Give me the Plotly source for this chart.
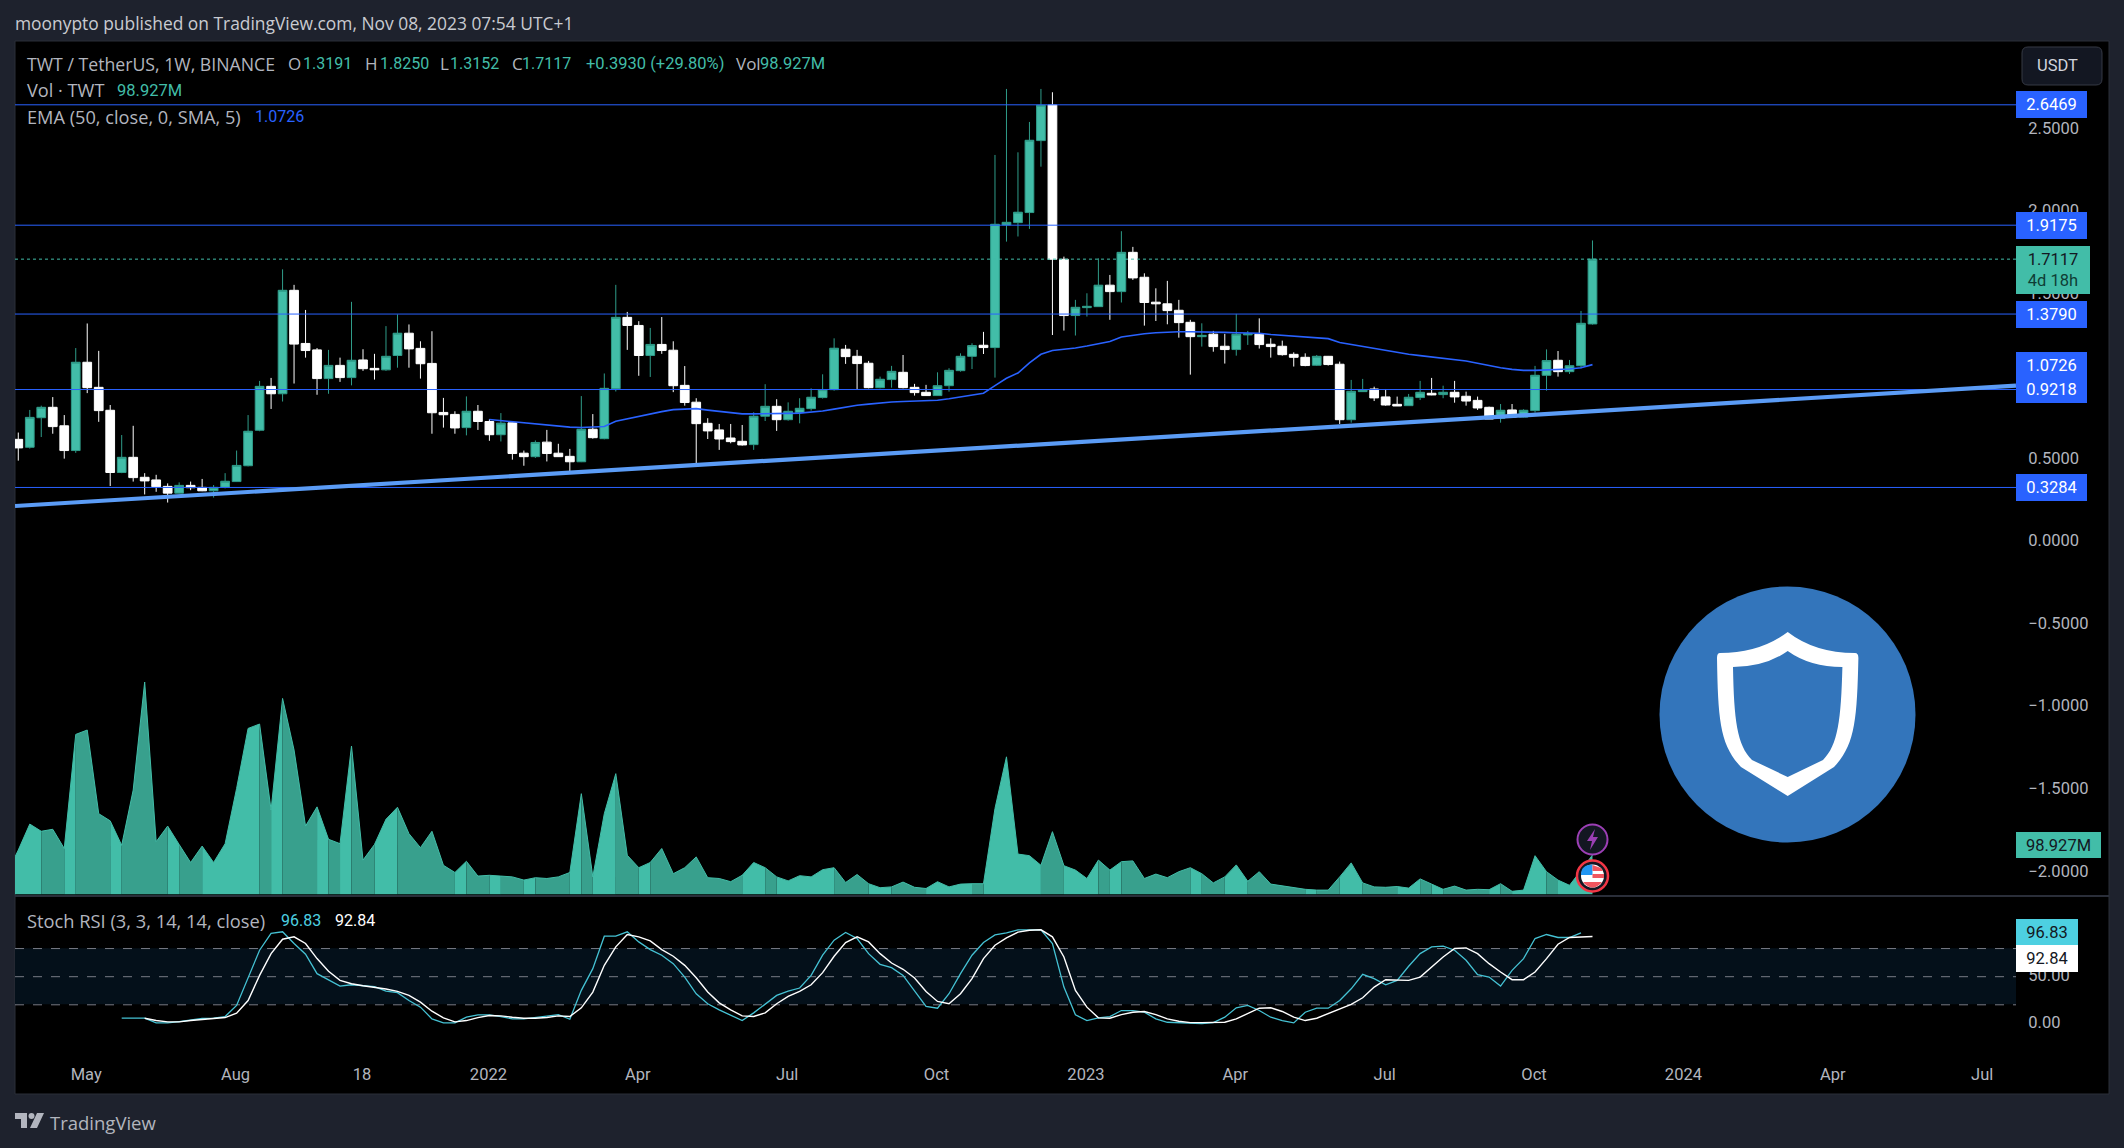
import pandas as pd
import plotly.graph_objects as go

W, H = 2124, 1148

# ---------- data ----------
start_week = "2021-03-22"
high = [.661,.798,.824,.876,.767,1.173,1.322,1.156,.828,.646,
        .702,.415,.405,.353,.359,.364,.380,.343,.415,.552,
        .767,.974,.992,1.650,1.556,1.404,1.173,1.162,1.115,1.453,
        1.166,1.138,1.306,1.377,1.316,1.214,1.275,.871,.790,.880,
        .828,.742,.779,.722,.552,.613,.677,.593,.562,.882,
        .773,1.019,1.556,1.392,1.336,1.295,1.361,1.214,1.064,.869,
        .748,.713,.713,.707,.784,.954,.863,.844,.869,.929,
        1.014,1.232,1.192,1.162,1.095,1.000,1.065,1.131,.956,.950,
        1.026,1.051,1.141,1.202,1.271,2.343,2.743,2.359,2.543,2.743,
        2.723,1.727,1.465,1.505,1.717,1.616,1.881,1.786,1.626,1.535,
        1.580,1.465,1.344,1.323,1.277,1.259,1.380,1.277,1.353,1.232,
        1.218,1.147,1.141,1.131,1.125,1.091,.980,.986,.939,.925,
        .879,.895,.974,.992,.945,.974,.909,.879,.818,.834,
        .834,.802,1.065,1.165,1.155,1.101,1.398,1.825]
body_top = [.620,.753,.814,.814,.702,1.087,1.087,.935,.796,.511,
        .511,.390,.374,.335,.341,.341,.329,.329,.366,.462,
        .669,.941,.941,1.523,1.523,1.201,1.162,1.068,1.068,1.099,
        1.101,1.050,1.123,1.263,1.263,1.171,1.080,.783,.771,.790,
        .790,.728,.718,.720,.536,.601,.603,.536,.517,.681,
        .681,.929,1.359,1.359,1.310,1.195,1.195,1.160,.947,.845,
        .717,.677,.628,.608,.760,.820,.820,.790,.808,.875,
        .921,1.172,1.166,1.123,1.081,.984,1.032,1.026,.935,.905,
        .945,1.038,1.123,1.188,1.190,1.923,1.935,1.996,2.432,2.644,
        2.646,1.711,1.420,1.426,1.554,1.554,1.753,1.753,1.602,1.451,
        1.441,1.402,1.329,1.250,1.257,1.184,1.257,1.259,1.257,1.196,
        1.184,1.135,1.117,1.123,1.123,1.075,.911,.921,.925,.877,
        .832,.875,.905,.899,.905,.905,.881,.856,.814,.796,
        .798,.796,1.008,1.097,1.099,1.066,1.323,1.7117]
body_bottom = [.568,.572,.751,.697,.552,.552,.933,.794,.419,.419,
        .388,.368,.333,.294,.294,.327,.308,.308,.329,.364,
        .460,.675,.896,.896,1.197,1.158,.988,.988,.994,.994,
        1.048,1.041,1.041,1.128,1.168,1.078,.781,.769,.689,.691,
        .728,.648,.648,.534,.515,.515,.534,.515,.484,.484,
        .630,.624,.927,1.310,1.128,1.128,1.158,.945,.843,.715,
        .671,.622,.606,.586,.588,.760,.739,.739,.782,.806,
        .873,.921,1.121,1.079,.933,.933,.982,.933,.903,.885,
        .885,.945,1.036,1.123,1.176,1.176,1.919,1.933,1.994,2.430,
        1.711,1.370,1.370,1.418,1.424,1.515,1.515,1.598,1.449,1.441,
        1.400,1.327,1.242,1.242,1.182,1.164,1.164,1.253,1.194,1.182,
        1.133,1.117,1.067,1.069,1.073,.739,.739,.909,.871,.828,
        .822,.824,.873,.889,.891,.877,.852,.810,.743,.747,
        .755,.755,.794,1.008,1.030,1.030,1.066,1.3191]
low = [.491,.564,.634,.654,.503,.538,.900,.726,.337,.415,
        .364,.286,.302,.237,.292,.312,.306,.267,.323,.362,
        .456,.669,.804,.849,.958,1.115,.890,.896,.968,.947,
        1.035,.982,1.035,1.054,1.054,.988,.654,.691,.654,.644,
        .677,.611,.607,.497,.460,.507,.486,.513,.415,.482,
        .624,.620,.910,1.162,1.005,.998,1.138,.906,.824,.454,
        .622,.556,.596,.582,.556,.731,.671,.733,.717,.794,
        .867,.915,1.077,.925,.929,.929,.933,.929,.885,.883,
        .883,.909,1.030,1.046,1.137,.994,1.818,1.849,1.895,2.272,
        1.252,1.279,1.249,1.364,1.422,1.344,1.449,1.586,1.309,1.337,
        1.317,1.236,1.012,1.182,1.151,1.079,1.127,1.192,1.170,1.115,
        1.127,1.061,1.063,1.065,1.067,.713,.721,.909,.852,.824,
        .822,.822,.858,.887,.869,.842,.824,.798,.743,.721,
        .753,.753,.782,.915,1.000,1.016,1.050,1.3152]
rising_weeks = [1,2,5,9,14,17,18,19,20,21,23,27,29,32,33,39,42,45,49,51,52,55,
        64,65,67,68,69,70,71,75,76,80,81,82,83,85,86,87,88,89,92,93,94,96,
        103,106,107,113,116,117,121,122,124,129,131,132,133,135,136,137]
ema_first_week = 41
ema = [.740,.733,.726,.720,.714,.708,.700,.694,.692,.694,.698,.730,.745,.760,.773,.788,.800,.805,.806,
       .797,.788,.780,.774,.774,.774,.775,.777,.779,.785,.792,.803,.817,.827,.833,.840,.846,.849,.852,.854,
       .857,.866,.878,.888,.899,.945,.990,1.022,1.083,1.135,1.158,1.166,1.173,1.185,1.200,1.213,1.240,1.252,
       1.260,1.266,1.270,1.272,1.272,1.272,1.270,1.268,1.266,1.263,1.263,1.255,1.250,1.243,1.237,1.233,1.230,
       1.207,1.195,1.183,1.172,1.161,1.145,1.135,1.127,1.119,1.111,1.103,1.095,1.081,1.067,1.054,1.044,1.038,
       1.038,1.040,1.042,1.046,1.054,1.0726]
volume_week_before_m = 52
volume_m = [111,176,158,163,115,400,411,202,184,123,261,531,132,171,125,80,121,80,127,265,
        415,426,211,490,361,171,219,138,127,371,86,125,188,218,152,117,158,73,55,83,
        46,48,46,44,36,42,40,44,55,252,44,202,302,98,67,80,115,52,67,94,
        42,40,32,48,80,67,44,34,47,44,62,67,30,50,27,17,19,31,18,15,
        32,19,26,27,27,215,344,101,97,73,157,72,61,40,86,61,82,84,40,51,
        42,57,67,52,29,44,74,33,57,26,22,17,13,11,11,44,79,29,19,18,
        20,16,39,26,13,21,11,13,12,27,8,11,97,57,36,23,60,98.927]
stoch_k_first_week = 9
stoch_k = [5.7,5.7,5.7,.7,.7,2.1,3.9,5.4,5.7,7.5,19.3,49.6,78.2,96.1,97.9,85.4,73.9,53.2,46.8,40,
        41.4,40,39.3,34.6,32.9,24.6,17.5,5,.7,.7,6.8,9.3,9.3,7.5,5,5,6.1,7.9,9.6,4.6,
        35.4,58.6,93.2,93.2,97.9,87.1,78.9,72.9,63.9,49.6,31.8,21.1,14.6,8.6,3.2,11.4,21.1,30,34.6,37.9,
        51.4,72.9,88.9,97.1,90.7,74.6,63.2,59.6,51.4,35.4,18.2,16.4,31.8,53.2,72.9,86.4,94.6,96.8,100,100,
        100,85.4,38.9,9.3,3.2,6.1,7.5,13.9,13.9,12.1,5,1.4,.7,0,0,1,6.8,16.8,19.3,13.9,
        6.8,3.2,.7,12.1,16.4,16.4,24.6,37.1,52.5,47.9,41.4,46.1,61.1,74.6,81.8,82.5,78.2,67.5,52.1,49.6,
        40,56.8,69.3,90.7,95,91.8,91.8,96.83]
stoch_d_first_week = 11
stoch_d = [5.7,3.2,1.8,1.8,3.2,4.6,5.4,6.4,11.1,24.6,51.4,74.6,90,92.5,85.4,69.3,55.7,46.1,42.5,40.4,
        38.9,36.8,34.3,30,22.9,13.2,6.1,1.8,3.2,6.4,8.6,8.2,6.8,5.7,5.7,6.4,8.2,7.5,16.8,33.6,
        62.1,81.8,95,92.5,88.2,78.9,71.8,62.1,48.9,33.6,22.1,14.6,8.2,7.5,11.4,21.1,28.9,34.3,41.4,54.3,
        71.8,86.4,92.5,87.1,74.6,64.6,57.9,48.6,34.3,23.6,21.1,31.8,47.9,69.3,83.6,91.4,97.5,99.6,100,92.5,
        71,35.4,17.5,6.1,5.7,9.6,12.1,12.9,9.6,5,2.5,1,1,1,1.4,5,10.4,16.4,16.8,12.9,
        6.8,3.2,5.7,10.4,15.7,20.4,27.5,38.9,46.8,46.8,46.1,49.6,60.4,71,80,80.7,74.6,63.9,55,46.8,
        46.8,55,69.3,84.6,91.8,92.1,92.84]
price_levels = [2.6469, 1.9175, 1.3790, 0.9218, 0.3284]
last_price = 1.7117
trend_values = [0.216, 0.945]
x_range = ["2021-03-20", "2024-07-21"]
price_ticks = [2.5, 2.0, 1.5, 1.0, 0.5, 0.0, -0.5, -1.0, -1.5, -2.0]
stoch_ticks = [0, 50]
stoch_bands = [80, 50, 20]
time_tick_dates = ["2021-05-03","2021-08-02","2021-10-18","2022-01-03","2022-04-04","2022-07-04",
                   "2022-10-03","2023-01-02","2023-04-03","2023-07-03","2023-10-02","2024-01-01",
                   "2024-04-01","2024-07-01"]
time_tick_labels = ["May","Aug","18","2022","Apr","Jul","Oct","2023","Apr","Jul","Oct","2024","Apr","Jul"]

# ---------- colours ----------
BG, PANEL = "#1e222d", "#000000"
TEAL, TEAL_DK = "#42bda8", "#38a08d"
BLUE, TREND = "#2962ff", "#5b9cf6"
GRAY, LIGHT = "#b2b5be", "#d1d4dc"
CYAN = "#4dd0e1"
NUM_FONT = "Roboto"
TXT_FONT = "Open Sans"
FS = 16.5


def px(x):
    return x / W


def py(y):
    return 1 - y / H


weeks = pd.date_range(start_week, periods=len(high), freq="7D")
rising = set(rising_weeks)
opens = [b if i in rising else t for i, (t, b) in enumerate(zip(body_top, body_bottom))]
closes = [t if i in rising else b for i, (t, b) in enumerate(zip(body_top, body_bottom))]

fig = go.Figure()

# volume: one filled piece per run of equal direction; the first piece enters from the week before the view
vol_x = [weeks[0] - pd.Timedelta(days=7)] + list(weeks)
vol_y = [volume_week_before_m] + volume_m
vol_up = [True] + [k in rising for k in range(len(high))]
vol_up[1] = True
i = 0
n = len(vol_x)
while i < n - 1:
    up = vol_up[i + 1]
    j = i + 1
    while j + 1 < n and vol_up[j + 1] == up:
        j += 1
    fig.add_trace(go.Scatter(x=vol_x[i:j + 1], y=vol_y[i:j + 1], mode="lines", fill="tozeroy",
                             fillcolor=TEAL if up else TEAL_DK, line=dict(color=TEAL, width=1),
                             yaxis="y2", hoverinfo="skip", showlegend=False))
    i = j

for lv in price_levels:
    fig.add_trace(go.Scatter(x=x_range, y=[lv, lv], mode="lines", line=dict(color=BLUE, width=1),
                             hoverinfo="skip", showlegend=False))
fig.add_trace(go.Scatter(x=x_range, y=[last_price, last_price], mode="lines",
                         line=dict(color=TEAL, width=1, dash="dot"), hoverinfo="skip", showlegend=False))
fig.add_trace(go.Candlestick(x=weeks, open=opens, high=high, low=low, close=closes,
                             increasing=dict(fillcolor=TEAL, line=dict(color="#2f9c89", width=1)),
                             decreasing=dict(fillcolor="#ffffff", line=dict(color="#ffffff", width=1)),
                             whiskerwidth=0, showlegend=False, hoverinfo="skip"))
fig.add_trace(go.Scatter(x=weeks[ema_first_week:], y=ema, mode="lines", line=dict(color=BLUE, width=1.6),
                         hoverinfo="skip", showlegend=False))
fig.add_trace(go.Scatter(x=x_range, y=trend_values, mode="lines", line=dict(color=TREND, width=4.2),
                         hoverinfo="skip", showlegend=False))
fig.add_trace(go.Scatter(x=weeks[stoch_k_first_week:], y=stoch_k, mode="lines", line=dict(color="#45c2d4", width=1.3),
                         yaxis="y3", hoverinfo="skip", showlegend=False))
fig.add_trace(go.Scatter(x=weeks[stoch_d_first_week:], y=stoch_d, mode="lines", line=dict(color="#ffffff", width=1.4),
                         yaxis="y3", hoverinfo="skip", showlegend=False))

# ---------- shapes ----------
shapes = []


def paper_rect(x0, y0, x1, y1, fill, line=None, layer="below", lw=1):
    shapes.append(dict(type="rect", xref="paper", yref="paper", x0=px(x0), x1=px(x1), y0=py(y0), y1=py(y1),
                       fillcolor=fill, line=dict(color=line or fill, width=lw if line else 0), layer=layer))


def paper_path(cmds, fill, line=None, lw=0, layer="above"):
    parts = []
    for c in cmds:
        if isinstance(c, str):
            parts.append(c)
        else:
            parts.append(f"{px(c[0]):.5f},{py(c[1]):.5f}")
    shapes.append(dict(type="path", xref="paper", yref="paper", path=" ".join(parts), fillcolor=fill,
                       line=dict(color=line or fill, width=lw), layer=layer))


def circle(cx, cy, r, fill, line=None, lw=0):
    shapes.append(dict(type="circle", xref="paper", yref="paper", x0=px(cx - r), x1=px(cx + r), y0=py(cy + r), y1=py(cy - r),
                       fillcolor=fill, line=dict(color=line or fill, width=lw), layer="above"))


paper_rect(15, 41, 2109, 1094, PANEL, "#2a2e39")
paper_rect(15, 948.3, 2016, 1004.3, "#04101a")
for b in stoch_bands:
    shapes.append(dict(type="line", xref="paper", yref="y3", x0=px(15), x1=px(2016), y0=b, y1=b,
                       line=dict(color="#787b86", width=1, dash="dash"), layer="below"))
shapes.append(dict(type="line", xref="paper", yref="paper", x0=px(15), x1=px(2109), y0=py(896), y1=py(896),
                   line=dict(color="#2a2e39", width=2), layer="above"))

# USDT button
x0, x1, y0, y1, r = 2022, 2102, 47, 85, 6
paper_path(["M", (x0 + r, y0), "L", (x1 - r, y0), "Q", (x1, y0), (x1, y0 + r), "L", (x1, y1 - r), "Q", (x1, y1), (x1 - r, y1),
            "L", (x0 + r, y1), "Q", (x0, y1), (x0, y1 - r), "L", (x0, y0 + r), "Q", (x0, y0), (x0 + r, y0), "Z"],
           "#131722", "#363a45", 1)

# coin logo
circle(1787.5, 714.5, 128, "#3375bb")
paper_path(["M", (1787.7, 632), "Q", (1760, 653), (1720, 653), "Q", (1717, 653), (1717, 658),
            "C", (1718, 720), (1720, 745), (1741, 767), "L", (1787.7, 796), "L", (1834, 767),
            "C", (1855, 745), (1857, 720), (1858.4, 658), "Q", (1858.4, 653), (1855, 653), "Q", (1815, 653), (1787.7, 632), "Z",
            "M", (1787.7, 651), "Q", (1765, 667), (1733, 667), "C", (1734, 720), (1737, 745), (1752, 760),
            "L", (1787.7, 777), "L", (1823, 760), "C", (1838, 745), (1841, 720), (1842.4, 667), "Q", (1810, 667), (1787.7, 651), "Z"],
           "#ffffff")

# event badges
circle(1592.5, 839.5, 15, "#131722", "#9c3fb5", 2)
paper_path(["M", (1595, 829), "L", (1587, 841), "L", (1592, 841), "L", (1590, 850), "L", (1598, 837), "L", (1593, 837), "Z"], "#9c3fb5")
circle(1592.5, 876, 15.5, "#131722", "#f23645", 2.5)
circle(1592.5, 876, 11.5, "#ffffff")
paper_path(["M", (1581, 875), "Q", (1581, 864.5), (1592.5, 864.5), "L", (1592.5, 875), "Z"], "#2196f3")
paper_path(["M", (1592.5, 865), "L", (1601, 868), "L", (1603, 871), "L", (1592.5, 871), "Z"], "#f0565f")
paper_path(["M", (1592.5, 874), "L", (1604, 874), "L", (1604, 878), "L", (1592.5, 878), "Z"], "#f0565f")
paper_path(["M", (1583, 882), "L", (1602, 882), "Q", (1598, 887.5), (1592.5, 887.5), "Q", (1587, 887.5), (1583, 882), "Z"], "#f0565f")

# TradingView mark
paper_path(["M", (15, 1113), "L", (27, 1113), "L", (27, 1128), "L", (21, 1128), "L", (21, 1119), "L", (15, 1119), "Z"], GRAY)
circle(31.5, 1116, 3, GRAY)
paper_path(["M", (37, 1113), "L", (44, 1113), "L", (37, 1128), "L", (30, 1128), "Z"], GRAY)

# ---------- text ----------
ann = []


def text(x, y, s, color=GRAY, size=FS, anchor="left", family=TXT_FONT):
    ann.append(dict(xref="paper", yref="paper", x=px(x), y=py(y), text=s, showarrow=False, xanchor=anchor, yanchor="middle",
                    borderpad=0, borderwidth=0, font=dict(family=family, size=size, color=color)))


def num(x, y, s, color=TEAL, size=FS):
    text(x, y, s, color, size, "left", NUM_FONT)


def tag(x0, x1, yc, h, s, bg, fg="#ffffff", yref="paper", size=FS):
    ann.append(dict(xref="paper", yref=yref, x=px((x0 + x1) / 2), y=py(yc) if yref == "paper" else yc,
                    text=s, showarrow=False, xanchor="center", yanchor="middle", width=x1 - x0, height=h,
                    bgcolor=bg, borderpad=0, borderwidth=0, font=dict(family=NUM_FONT, size=size, color=fg)))


def sp(s, c):
    return f"<span style='color:{c}'>{s}</span>"


text(15, 23, "moonypto published on TradingView.com, Nov 08, 2023 07:54 UTC+1", "#c9cbd1", 17.4)
text(27, 64, "TWT / TetherUS, 1W, BINANCE", GRAY, 17.7)
for lx, ltxt, vx, vtxt in [(288, "O", 302.7, "1.3191"), (364.7, "H", 379.5, "1.8250"), (440, "L", 450, "1.3152"), (511.6, "C", 522, "1.7117")]:
    text(lx, 64, ltxt, GRAY, 17)
    num(vx, 64, vtxt, TEAL, 16)
num(585.7, 64, "+0.3930 (+29.80%)", TEAL, 16.5)
text(735.5, 64, "Vol", GRAY, 17)
num(760, 64, "98.927M", TEAL, 16.5)
text(27, 90, "Vol · TWT", GRAY, 18.2)
num(117, 90, "98.927M", TEAL, 16.5)
text(27, 116.5, "EMA (50, close, 0, SMA, 5)", GRAY, 18.2)
num(254.5, 116.5, "1.0726", BLUE, 16)
text(27, 920.5, "Stoch RSI (3, 3, 14, 14, close)", GRAY, 18.3)
num(281, 920.5, "96.83", CYAN, 16)
num(335.4, 920.5, "92.84", "#ffffff", 16)
text(49.5, 1122, "TradingView", GRAY, 18.5)
text(2057, 66, "USDT", LIGHT, FS, "center", NUM_FONT)
for lv in price_levels:
    tag(2016, 2087, lv, 27, f"{lv:.4f}", BLUE, yref="y")
tag(2016, 2087, 1.0726, 26, "1.0726", BLUE, yref="y")
tag(2016, 2090, 270, 48, "1.7117<br>" + sp("4d 18h", "#0f3d35"), TEAL, "#131722")
tag(2016, 2101, 845, 26, "98.927M", TEAL, "#131722")
tag(2016, 2078, 932, 26, "96.83", CYAN, "#131722")
tag(2016, 2078, 958.5, 27, "92.84", "#ffffff", "#131722")

axis_font = dict(family=NUM_FONT, size=FS, color=GRAY)
fig.update_layout(
    width=W, height=H, margin=dict(l=0, r=0, t=0, b=0, pad=0), autosize=False,
    paper_bgcolor=BG, plot_bgcolor="rgba(0,0,0,0)", showlegend=False, boxmode="overlay", boxgap=0.24, boxgroupgap=0,
    hovermode=False, shapes=shapes, annotations=ann,
    xaxis=dict(type="date", range=x_range, domain=[px(15), px(2016)], anchor="y3", showgrid=False, zeroline=False,
               showline=False, rangeslider=dict(visible=False), tickmode="array", tickvals=time_tick_dates,
               ticktext=time_tick_labels, tickfont=axis_font, ticks="", ticklabelshift=-1),
    yaxis=dict(domain=[py(896), py(41)], range=[-2.147, 3.0335], side="right", anchor="x", showgrid=False, zeroline=False,
               tickmode="array", tickvals=price_ticks, tickformat=".4f", tickfont=axis_font, ticks="outside", ticklen=8,
               tickcolor="rgba(0,0,0,0)", ticklabelshift=-1),
    yaxis2=dict(domain=[py(894.5), py(660)], range=[0, 586], anchor="x", visible=False),
    yaxis3=dict(domain=[py(1062), py(897)], range=[-41, 135], side="right", anchor="x", showgrid=False, zeroline=False,
                tickmode="array", tickvals=stoch_ticks, tickformat=".2f", tickfont=axis_font, ticks="outside", ticklen=8,
                tickcolor="rgba(0,0,0,0)", ticklabelshift=-1),
)

fig.write_html("out.html", config={"displayModeBar": False},
               post_script="document.body.style.margin='0';document.body.style.background='#1e222d';")
